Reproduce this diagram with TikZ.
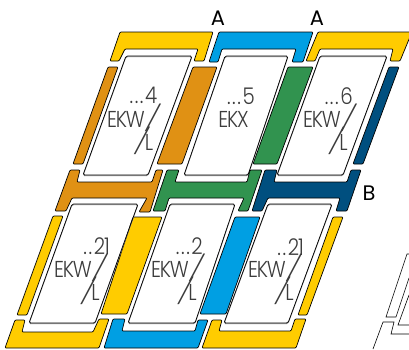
\documentclass[tikz,border=0pt]{standalone}
\usepackage{fontspec}
\newfontfamily\panefont[UprightFont=* Light,FakeStretch=0.86,LetterSpace=-5]{Poppins}
\newfontfamily\slashfont[UprightFont=* Light,FakeSlant=0.28]{Poppins}
\newfontfamily\markfont{Poppins}
\newcommand{\dotgap}{.\kern1.6pt}
\newcommand{\panesl}{{\slashfont\fontsize{25}{25}\selectfont /}}
\definecolor{yel}{HTML}{FFCC00}
\definecolor{blu}{HTML}{009FE3}
\definecolor{org}{HTML}{E09114}
\definecolor{grn}{HTML}{31934F}
\definecolor{nvy}{HTML}{004F7F}
\definecolor{ink}{HTML}{3C3C3C}
\tikzset{
	part/.style={draw=black,line width=0.7pt,rounded corners=1pt,fill=#1},
	pane/.style={draw=black,line width=0.7pt,rounded corners=1.5pt},
	paneshade/.style={draw=black!45,line width=0.7pt,rounded corners=1.5pt,yshift=-0.8pt},
	panetxt/.style={anchor=base east,inner sep=0pt,text=ink,font=\panefont\fontsize{23}{23}\selectfont},
	marktxt/.style={inner sep=0pt,text=black,font=\markfont\fontsize{21}{21}\selectfont}
}

\begin{document}
\begin{tikzpicture}[x=1pt,y=-1pt]
	\useasboundingbox (0,0) rectangle (409,349);
	% side strips
	\foreach \c/\xa/\xb/\xc/\xd/\ya/\yb in {org/108/118/83/73/67/164,org/193/217/182/157/67/164,grn/288/313/277/253/67/164,nvy/389/399/363/353/67/164,yel/53/63/27/17/216/315,yel/133/162/127/101/217/314,blu/235/260/226/200/217/314,yel/333/343/307/298/217/315} {
		\draw[part=\c] (\xa,\ya) -- (\xb,\ya) -- (\xc,\yb) -- (\xd,\yb) -- cycle;
	}
	% window panes
	\foreach \xa/\xb/\xc/\xd/\ya/\yb in {126/192/148/83/56/175,225/288/248/184/56/175,320/387/343/277/56/175,72/138/95/29/204/323,170/235/195/128/204/323,268/332/288/224/204/323} {
		\draw[paneshade] (\xa,\ya) -- (\xb,\ya) -- (\xc,\yb) -- (\xd,\yb) -- cycle;
		\draw[pane] (\xa,\ya) -- (\xb,\ya) -- (\xc,\yb) -- (\xd,\yb) -- cycle;
	}
	% top frames
	\draw[part=yel] (120,32) -- (213,32) -- (204,61) -- (194,61) -- (198,49) -- (125,49) -- (119,61) -- (110,61) -- cycle;
	\draw[part=blu] (219,32) -- (313,32) -- (303,62) -- (292,62) -- (296,49) -- (222,49) -- (218,62) -- (209,62) -- cycle;
	\draw[part=yel] (318,32) -- (412,32) -- (400,61) -- (390,61) -- (393,49) -- (320,49) -- (315,61) -- (306,61) -- cycle;
	% middle frames
	\draw[part=org] (70,170) -- (80,170) -- (77,182) -- (152,182) -- (156,170) -- (163,170) -- (150,212) -- (139,212) -- (147,198) -- (72,198) -- (66,211) -- (55,211) -- cycle;
	\draw[part=grn] (167,170) -- (179,170) -- (175,182) -- (247,182) -- (250,170) -- (262,170) -- (248,211) -- (238,211) -- (244,198) -- (169,198) -- (165,211) -- (153,211) -- cycle;
	\draw[part=nvy] (265,170) -- (277,170) -- (274,182) -- (347,182) -- (351,170) -- (361,170) -- (347,211) -- (336,211) -- (340,198) -- (268,198) -- (262,211) -- (252,211) -- cycle;
	% bottom frames
	\draw[part=yel] (15,320) -- (25,320) -- (22,332) -- (93,332) -- (99,319) -- (109,319) -- (99,348) -- (5,348) -- cycle;
	\draw[part=blu] (113,319) -- (125,319) -- (122,331) -- (195,331) -- (198,320) -- (208,320) -- (198,348) -- (104,348) -- cycle;
	\draw[part=yel] (212,320) -- (222,320) -- (219,331) -- (291,331) -- (295,319) -- (306,319) -- (296,348) -- (202,348) -- cycle;
	% next roof window, cut off at the edge
	\draw[line width=0.6pt] (409,254) -- (407,254) -- (386,317) -- (396,317) -- (409,278);
	\draw[line width=0.6pt] (409,295) -- (398,325) -- (409,325);
	\draw[line width=0.6pt] (373,349) -- (383,322) -- (394,322) -- (391,334) -- (409,334);
	% pane texts
	\node[panetxt] (w1a) at (157.5,103) {\dotgap\dotgap\dotgap 4};
	\node[panetxt] (w1b) at (156,127) {EKW\panesl};
	\node[panetxt] (w1c) at (153.5,150) {\panesl L};
	\node[panetxt] (w2a) at (255,104) {\dotgap\dotgap\dotgap 5};
	\node[panetxt] (w2b) at (249,127) {EKX};
	\node[panetxt] (w3a) at (353,104) {\dotgap\dotgap\dotgap 6};
	\node[panetxt] (w3b) at (352,127) {EKW\panesl};
	\node[panetxt] (w3c) at (348,150) {\panesl L};
	\node[panetxt] (w4a) at (110,254) {\dotgap\dotgap 21};
	\node[panetxt] (w4b) at (103,277) {EKW\panesl};
	\node[panetxt] (w4c) at (100,300) {\panesl L};
	\node[panetxt] (w5a) at (203,254) {\dotgap\dotgap\dotgap 2};
	\node[panetxt] (w5b) at (200,277) {EKW\panesl};
	\node[panetxt] (w5c) at (197,300) {\panesl L};
	\node[panetxt] (w6a) at (304,255) {\dotgap\dotgap 21};
	\node[panetxt] (w6b) at (297,277) {EKW\panesl};
	\node[panetxt] (w6c) at (294,300) {\panesl L};
	% section marks
	\node[marktxt] (a1) at (218,18) {A};
	\node[marktxt] (a2) at (317,18) {A};
	\node[marktxt] (b1) at (369,193) {B};
\end{tikzpicture}
\end{document}
